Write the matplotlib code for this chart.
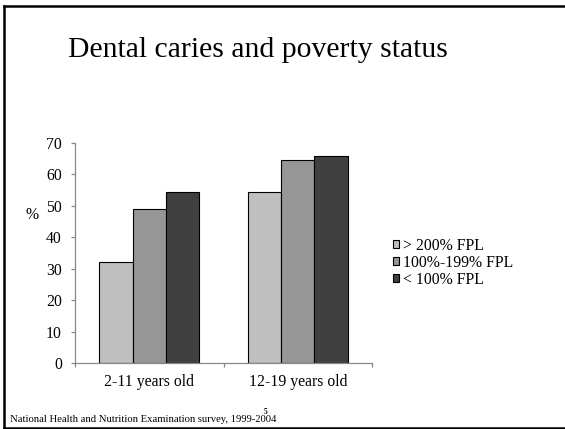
#!/usr/bin/env python3

import numpy as np
import matplotlib
matplotlib.use("Agg")
import matplotlib.pyplot as plt
from matplotlib.patches import Patch

OUTPUT_FNAME = "out.png"

title = "Dental caries and poverty status"
age_groups = ["2-11 years old", "12-19 years old"]
poverty_levels = ["> 200% FPL", "100%-199% FPL", "< 100% FPL"]

above_200 = [32.3, 54.3]
fpl_100_199 = [49.0, 64.5]
below_100 = [54.5, 65.7]

footnote = "National Health and Nutrition Examination survey, 1999-2004"
page_no = "5"

colors = ["#bfbfbf", "#969696", "#404040"]
axis_grey = "#888888"

plt.rcParams["font.family"] = ["Liberation Serif", "DejaVu Serif"]


def plot():
    fig = plt.figure(figsize=(5.65, 4.29), dpi=100)
    W, H = 565.0, 429.0

    # slide frame (right edge runs off the page)
    fig.add_artist(plt.Line2D([4 / W, 4 / W], [1 - 5.5 / H, 1 - 427.5 / H],
                              transform=fig.transFigure, color="black", lw=1.8))
    fig.add_artist(plt.Line2D([4 / W, 1.0], [1 - 5.5 / H, 1 - 5.5 / H],
                              transform=fig.transFigure, color="black", lw=1.8))
    fig.add_artist(plt.Line2D([4 / W, 1.0], [1 - 427.5 / H, 1 - 427.5 / H],
                              transform=fig.transFigure, color="black", lw=1.8))

    fig.text(258 / W, 1 - 57.3 / H, title, ha="center", va="baseline", fontsize=21.4)

    ax = fig.add_axes([74.7 / W, 65.7 / H, 297.6 / W, 220.6 / H])

    ind = np.arange(len(age_groups))
    bar_width = 0.223
    series = [above_200, fpl_100_199, below_100]
    for i, (vals, color) in enumerate(zip(series, colors)):
        ax.bar(ind + (i - 1) * bar_width, vals, bar_width, color=color,
               edgecolor="black", linewidth=0.8, zorder=2)

    ax.set_xlim(-0.5, len(age_groups) - 0.5)
    ax.set_ylim(0, 70)
    ax.set_yticks(np.arange(0, 71, 10))
    ax.set_xticks(ind, age_groups)
    ax.set_xticks(np.arange(-0.5, len(age_groups), 1.0), minor=True)

    for side in ["top", "right"]:
        ax.spines[side].set_visible(False)
    for side in ["left", "bottom"]:
        ax.spines[side].set_color(axis_grey)
        ax.spines[side].set_linewidth(0.9)

    ax.tick_params(axis="y", direction="out", length=2.9, width=0.9,
                   color=axis_grey, pad=6.3, labelsize=11.3)
    ax.tick_params(axis="x", which="major", length=0, pad=7.5, labelsize=11.3)
    ax.tick_params(axis="x", which="minor", direction="out", length=3,
                   width=0.9, color=axis_grey)

    fig.text(32 / W, 1 - 215 / H, "%", ha="center", va="center", fontsize=11.3)

    handles = [Patch(facecolor=c, edgecolor="black", linewidth=0.8) for c in colors]
    fig.legend(handles, poverty_levels, loc="upper left",
               bbox_to_anchor=(392.7 / W, 1 - 238 / H), frameon=False,
               fontsize=11.3, handlelength=0.4, handleheight=0.4,
               handletextpad=0.25, labelspacing=0.05, borderpad=0,
               borderaxespad=0)

    fig.text(10 / W, 1 - 422 / H, footnote, ha="left", va="baseline", fontsize=7.7)
    fig.text(266 / W, 1 - 411.5 / H, page_no, ha="center", va="center",
             fontsize=5.5, fontweight="bold")

    fig.savefig(OUTPUT_FNAME, dpi=100)


def main():
    plot()


if __name__ == "__main__":
    main()
